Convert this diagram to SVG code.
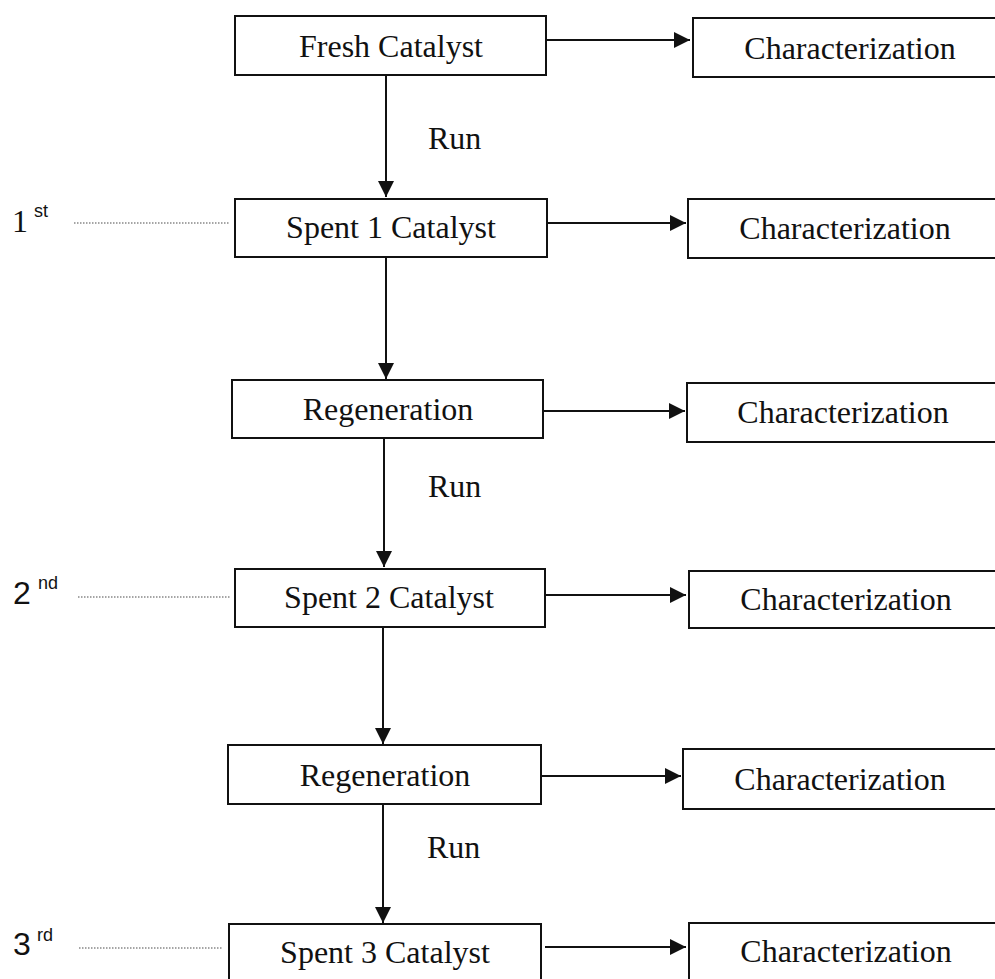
<svg xmlns="http://www.w3.org/2000/svg" width="995" height="979" viewBox="0 0 995 979">
<style>
.box{fill:#fff;stroke:#111;stroke-width:2}
.t{font-family:"Liberation Serif","Times New Roman",serif;font-size:32px;fill:#111;text-anchor:middle}
.lbl{font-family:"Liberation Serif","Times New Roman",serif;font-size:32px;fill:#111}
.ord{font-family:"Liberation Sans",Arial,sans-serif;font-size:32px;fill:#111}
.sup{font-family:"Liberation Sans",Arial,sans-serif;font-size:18px;fill:#111}
.ln{stroke:#111;stroke-width:2;fill:none;marker-end:url(#ah)}
.dot{stroke:#888;stroke-width:1.5;stroke-dasharray:1.5 1.5;fill:none}
</style>
<defs>
<marker id="ah" markerUnits="userSpaceOnUse" markerWidth="18" markerHeight="18" refX="16" refY="8" orient="auto">
<path d="M0,0 L16,8 L0,16 Z" fill="#111"/>
</marker>
</defs>
<rect width="995" height="979" fill="#fff"/>
<g id="connectors">
<line class="ln" x1="386" y1="75" x2="386" y2="197"/>
<line class="ln" x1="386" y1="257" x2="386" y2="379"/>
<line class="ln" x1="384" y1="438" x2="384" y2="567"/>
<line class="ln" x1="383" y1="627" x2="383" y2="744"/>
<line class="ln" x1="383" y1="804" x2="383" y2="923"/>
<line class="ln" x1="546" y1="40" x2="690" y2="40"/>
<line class="ln" x1="547" y1="223" x2="686" y2="223"/>
<line class="ln" x1="543" y1="411" x2="685" y2="411"/>
<line class="ln" x1="545" y1="595" x2="686" y2="595"/>
<line class="ln" x1="541" y1="776" x2="681" y2="776"/>
<line class="ln" x1="545" y1="947" x2="686" y2="947"/>
<line class="dot" x1="74" y1="223" x2="229" y2="223"/>
<line class="dot" x1="78" y1="597" x2="230" y2="597"/>
<line class="dot" x1="79" y1="948" x2="223" y2="948"/>
</g>
<g id="labels">
<text class="lbl" x="428" y="149">Run</text>
<text class="lbl" x="428" y="497">Run</text>
<text class="lbl" x="427" y="858">Run</text>
<text class="lbl" x="12" y="232">1</text>
<text class="sup" x="34" y="217">st</text>
<text class="ord" x="13" y="604">2</text>
<text class="sup" x="38" y="589">nd</text>
<text class="ord" x="13" y="955">3</text>
<text class="sup" x="37" y="941">rd</text>
</g>
<g id="fresh"><rect class="box" x="235" y="16" width="311" height="59"/><text class="t" x="391" y="57">Fresh Catalyst</text></g>
<g id="char1"><rect class="box" x="693" y="18" width="320" height="59"/><text class="t" x="850" y="59">Characterization</text></g>
<g id="spent1"><rect class="box" x="235" y="199" width="312" height="58"/><text class="t" x="391" y="238">Spent 1 Catalyst</text></g>
<g id="char2"><rect class="box" x="688" y="199" width="320" height="59"/><text class="t" x="845" y="239">Characterization</text></g>
<g id="regen1"><rect class="box" x="232" y="380" width="311" height="58"/><text class="t" x="388" y="420">Regeneration</text></g>
<g id="char3"><rect class="box" x="687" y="383" width="320" height="59"/><text class="t" x="843" y="423">Characterization</text></g>
<g id="spent2"><rect class="box" x="235" y="569" width="310" height="58"/><text class="t" x="389" y="608">Spent 2 Catalyst</text></g>
<g id="char4"><rect class="box" x="689" y="571" width="320" height="57"/><text class="t" x="846" y="610">Characterization</text></g>
<g id="regen2"><rect class="box" x="228" y="745" width="313" height="59"/><text class="t" x="385" y="786">Regeneration</text></g>
<g id="char5"><rect class="box" x="683" y="749" width="320" height="60"/><text class="t" x="840" y="790">Characterization</text></g>
<g id="spent3"><rect class="box" x="229" y="924" width="312" height="70"/><text class="t" x="385" y="963">Spent 3 Catalyst</text></g>
<g id="char6"><rect class="box" x="689" y="923" width="320" height="70"/><text class="t" x="846" y="962">Characterization</text></g>
</svg>
